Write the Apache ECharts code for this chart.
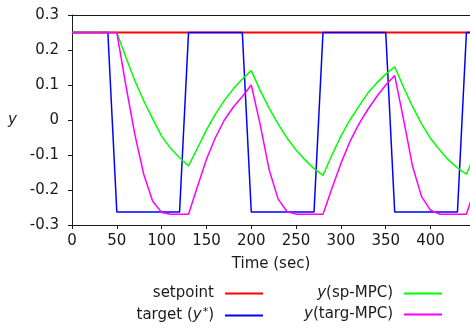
<!DOCTYPE html>
<html>
<head>
<meta charset="utf-8">
<script src="https://cdn.jsdelivr.net/npm/echarts@6/dist/echarts.min.js"></script>
<style>
  html, body { margin: 0; padding: 0; background: #fff; }
  #chart { width: 470px; height: 328px; }
</style>
</head>
<body>
<div id="chart"></div>
<script>
// sampled every 10 sec
const time = [0, 10, 20, 30, 40, 50, 60, 70, 80, 90, 100, 110, 120, 130, 140, 150, 160, 170, 180, 190,
  200, 210, 220, 230, 240, 250, 260, 270, 280, 290, 300, 310, 320, 330, 340, 350, 360, 370, 380, 390,
  400, 410, 420, 430, 440, 450]

const setpoint = [0.25, 0.25, 0.25, 0.25, 0.25, 0.25, 0.25, 0.25, 0.25, 0.25, 0.25, 0.25, 0.25, 0.25, 0.25,
  0.25, 0.25, 0.25, 0.25, 0.25, 0.25, 0.25, 0.25, 0.25, 0.25, 0.25, 0.25, 0.25, 0.25, 0.25, 0.25, 0.25,
  0.25, 0.25, 0.25, 0.25, 0.25, 0.25, 0.25, 0.25, 0.25, 0.25, 0.25, 0.25, 0.25, 0.25]

const target = [0.25, 0.25, 0.25, 0.25, 0.25,
  -0.263, -0.263, -0.263, -0.263, -0.263, -0.263, -0.263, -0.263,
  0.25, 0.25, 0.25, 0.25, 0.25, 0.25, 0.25,
  -0.263, -0.263, -0.263, -0.263, -0.263, -0.263, -0.263, -0.263,
  0.25, 0.25, 0.25, 0.25, 0.25, 0.25, 0.25, 0.25,
  -0.263, -0.263, -0.263, -0.263, -0.263, -0.263, -0.263, -0.263,
  0.25, 0.25]

const spMPC = [0.25, 0.25, 0.25, 0.25, 0.25, 0.25,
  0.18, 0.113, 0.055, 0.003, -0.046, -0.081, -0.108, -0.131,
  -0.08, -0.028, 0.017, 0.056, 0.089, 0.117, 0.141,
  0.084, 0.033, -0.012, -0.052, -0.086, -0.114, -0.139, -0.158,
  -0.1, -0.046, 0.0, 0.039, 0.077, 0.106, 0.131, 0.152,
  0.093, 0.038, -0.011, -0.053, -0.085, -0.114, -0.137, -0.155,
  -0.095]

const targMPC = [0.25, 0.25, 0.25, 0.25, 0.25, 0.25,
  0.1, -0.04, -0.155, -0.232, -0.264, -0.269, -0.269, -0.269,
  -0.19, -0.112, -0.05, 0.0, 0.037, 0.067, 0.1,
  -0.014, -0.143, -0.226, -0.262, -0.269, -0.269, -0.269, -0.269,
  -0.195, -0.124, -0.062, -0.012, 0.03, 0.067, 0.1, 0.127,
  0.0, -0.133, -0.219, -0.258, -0.269, -0.269, -0.269, -0.269,
  -0.19]

const FONT = 'DejaVu Sans'
const INK = '#1a1a1a'

const pairs = (ys) => time.map((t, i) => [t, ys[i]])

const LEGEND_LABELS = {
  setpoint: 'setpoint',
  target: 'target ({i|y}{s|*})',
  sp: '{i|y}(sp-MPC)',
  targ: '{i|y}(targ-MPC)',
}

const legendText = {
  fontFamily: FONT, fontSize: 15, color: INK, padding: [0, 6, 0, 0],
  rich: {
    i: { fontFamily: FONT, fontSize: 15, fontStyle: 'italic', color: INK },
    s: { fontFamily: FONT, fontSize: 11, color: INK, verticalAlign: 'top', padding: [0, 0, 6, 1] },
  },
}

function legendAt(name, right, top) {
  return {
    data: [name], right, top, padding: 0, align: 'right',
    icon: 'rect', itemWidth: 38, itemHeight: 2,
    formatter: (n) => LEGEND_LABELS[n],
    textStyle: legendText,
    selectedMode: false,
  }
}

function lineSeries(name, ys, color, width) {
  return {
    name, type: 'line', data: pairs(ys), symbol: 'none',
    color, lineStyle: { color, width }, animation: false,
  }
}

const chart = echarts.init(document.getElementById('chart'))
chart.setOption({
  animation: false,
  grid: { left: 72, right: 0, top: 15, bottom: 103 },
  legend: [
    legendAt('setpoint', 207, 286),
    legendAt('target', 207, 307),
    legendAt('sp', 28, 286),
    legendAt('targ', 28, 307),
  ],
  xAxis: [{
    type: 'value', min: 0, max: 444, interval: 50,
    name: 'Time (sec)', nameLocation: 'middle', nameGap: 32,
    nameTextStyle: { fontFamily: FONT, fontSize: 15, color: INK },
    axisLine: { show: true, onZero: false, lineStyle: { color: INK, width: 1 } },
    axisTick: { show: true, length: 4, lineStyle: { color: INK } },
    axisLabel: { fontFamily: FONT, fontSize: 15, color: INK, margin: 9, showMaxLabel: false },
    splitLine: { show: false },
  }, {
    type: 'value', min: 0, max: 444, position: 'top',
    axisLine: { show: true, onZero: false, lineStyle: { color: INK, width: 1 } },
    axisTick: { show: false }, axisLabel: { show: false }, splitLine: { show: false },
  }],
  yAxis: {
    type: 'value', min: -0.3, max: 0.3, interval: 0.1,
    name: 'y', nameLocation: 'middle', nameRotate: 0, nameGap: 55,
    nameTextStyle: { fontFamily: FONT, fontSize: 15, fontStyle: 'italic', color: INK },
    axisLine: { show: true, onZero: false, lineStyle: { color: INK, width: 1 } },
    axisTick: { show: true, length: 4, lineStyle: { color: INK } },
    axisLabel: {
      fontFamily: FONT, fontSize: 15, color: INK, margin: 13,
      formatter: (v) => (Math.abs(v) < 1e-9 ? '0' : v.toFixed(1)),
    },
    splitLine: { show: false },
  },
  series: [
    lineSeries('setpoint', setpoint, '#ff0000', 2),
    lineSeries('target', target, '#0000ff', 1.5),
    lineSeries('sp', spMPC, '#00ff00', 1.5),
    lineSeries('targ', targMPC, '#ff00ff', 1.5),
  ],
})
</script>
</body>
</html>
